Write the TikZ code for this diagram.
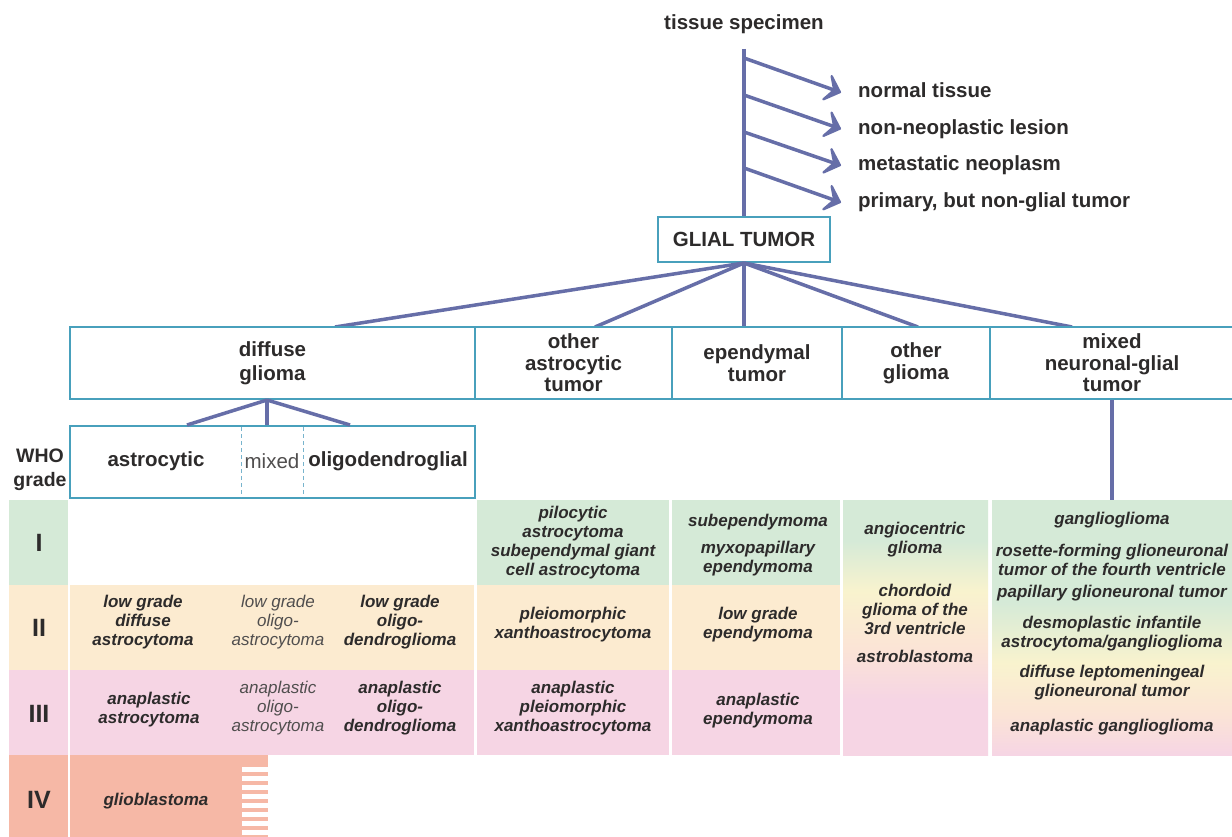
\documentclass[tikz,border=0pt]{standalone}
\usepackage{fontspec}
\setmainfont{Liberation Sans}
\usetikzlibrary{arrows.meta,calc}
\definecolor{lineblue}{RGB}{102,110,168}
\definecolor{boxteal}{RGB}{72,160,188}
\definecolor{dashteal}{RGB}{120,180,205}
\definecolor{txt}{RGB}{45,43,43}
\definecolor{txtgray}{RGB}{80,78,78}
\definecolor{gI}{RGB}{213,234,215}
\definecolor{gII}{RGB}{252,235,208}
\definecolor{gIII}{RGB}{246,213,228}
\definecolor{gIV}{RGB}{246,184,166}
\definecolor{yel}{RGB}{249,243,206}
\definecolor{pch}{RGB}{251,228,214}
\pgfdeclareverticalshading{ogshade}{100bp}{color(0bp)=(gIII); color(25bp)=(gIII); color(36bp)=(gIII); color(46bp)=(pch); color(57bp)=(yel); color(67bp)=(gI); color(100bp)=(gI)}
\pgfdeclareverticalshading{mxshade}{100bp}{color(0bp)=(gIII); color(25bp)=(gIII); color(33bp)=(pch); color(43bp)=(yel); color(55bp)=(gI); color(100bp)=(gI)}
\begin{document}
\begin{tikzpicture}[x=1pt,y=-1pt,
  lbl/.style={font=\fontsize{20.5}{22}\selectfont\bfseries, text=txt, inner sep=2pt},
  catbox/.style={draw=boxteal, line width=2pt, fill=white, minimum height=72pt, inner sep=0pt, align=center, font=\fontsize{20.5}{21.5}\selectfont\bfseries, text=txt},
  conn/.style={draw=lineblue, line width=3.5pt},
  arr/.style={conn, -{Stealth[length=15pt,width=28pt,inset=8pt,round,scale=1.3]}},
  cell/.style={font=\fontsize{17}{19}\selectfont\bfseries\itshape, text=txt, align=center, inner sep=0pt},
  cellgray/.style={font=\fontsize{17}{19}\selectfont\itshape, text=txtgray, align=center, inner sep=0pt},
  gradelbl/.style={font=\fontsize{25}{25}\selectfont\bfseries, text=txt, inner sep=0pt}
]
\useasboundingbox[fill=white] (0,0) rectangle (1232,837);

% ---------- table backgrounds ----------
\fill[gI]   (9,500) rectangle (68,585);
\fill[gII]  (9,585) rectangle (68,670);
\fill[gIII] (9,670) rectangle (68,755);
\fill[gIV]  (9,755) rectangle (68,837);
\fill[gII]  (70,585) rectangle (474,670);
\fill[gIII] (70,670) rectangle (474,755);
\fill[gIV]  (70,755) rectangle (268,837);
\foreach \k in {0,...,7}
  \fill[white] (242,{767+9*\k}) rectangle (269,{771.5+9*\k});
\fill[gI]   (477,500) rectangle (669,585);
\fill[gII]  (477,585) rectangle (669,670);
\fill[gIII] (477,670) rectangle (669,755);
\fill[gI]   (672,500) rectangle (840,585);
\fill[gII]  (672,585) rectangle (840,670);
\fill[gIII] (672,670) rectangle (840,755);
\node[shading=ogshade, minimum width=145pt, minimum height=255pt, inner sep=0pt] (ogcell) at (915.5,627.5) {};
\node[shading=mxshade, minimum width=240pt, minimum height=255pt, inner sep=0pt] (mxcell) at (1112,627.5) {};

% ---------- top part ----------
\node[lbl] (ts) at (744,24) {tissue specimen};
\node[draw=boxteal, line width=2pt, fill=white, minimum width=172pt, minimum height=45pt, inner sep=0pt,
      font=\fontsize{20.5}{22}\selectfont\bfseries, text=txt] (glial) at (744,239.5) {GLIAL TUMOR};

\node[lbl, anchor=base west, text height=15pt, text depth=4pt] (o1) at (856,98) {normal tissue};
\node[lbl, anchor=base west, text height=15pt, text depth=4pt] (o2) at (856,134.5) {non-neoplastic lesion};
\node[lbl, anchor=base west, text height=15pt, text depth=4pt] (o3) at (856,171) {metastatic neoplasm};
\node[lbl, anchor=base west, text height=15pt, text depth=4pt] (o4) at (856,208) {primary, but non-glial tumor};

\coordinate (s1) at (744,58);
\coordinate (s2) at (744,95);
\coordinate (s3) at (744,132);
\coordinate (s4) at (744,168);

\draw[conn] ([yshift=-13pt]ts.south) -- (glial.north);
\draw[arr] (s1) -- ([xshift=-15pt]o1.west);
\draw[arr] (s2) -- ([xshift=-15pt]o2.west);
\draw[arr] (s3) -- ([xshift=-15pt]o3.west);
\draw[arr] (s4) -- ([xshift=-15pt]o4.west);

% ---------- fan to categories ----------
\path (glial.south) coordinate (gs);
\draw[conn] (gs) -- (335,327) coordinate (e1);
\draw[conn] (gs) -- (595,327) coordinate (e2);
\draw[conn] (gs) -- (744,327) coordinate (e3);
\draw[conn] (gs) -- (918,327) coordinate (e4);
\draw[conn] (gs) -- (1072,327) coordinate (e5);

\node[catbox, minimum width=405pt, font=\fontsize{20.5}{24}\selectfont\bfseries] (diffuse) at (272.5,363) {diffuse\\glioma};
\node[catbox, minimum width=197pt] (oastro) at (573.5,363) {other\\astrocytic\\tumor};
\node[catbox, minimum width=170pt] (epend) at (757,363) {ependymal\\tumor};
\node[catbox, minimum width=148pt] (oglioma) at (916,363) {other\\glioma};
\node[catbox, minimum width=244pt] (mixbox) at (1112,363) {mixed\\neuronal-glial\\tumor};

% subtype box
\node[draw=boxteal, line width=2pt, fill=white, minimum width=405pt, minimum height=72pt, inner sep=0pt] (subtype) at (272.5,462) {};
\draw[dashteal, line width=1pt, dash pattern=on 4pt off 3pt] (241,427) -- (241,497);
\draw[dashteal, line width=1pt, dash pattern=on 4pt off 3pt] (303,427) -- (303,497);
\node[lbl] (astr) at (156,461) {astrocytic};
\node[font=\fontsize{20.5}{22}\selectfont, text=txtgray, inner sep=0pt] (mixd) at (272,461) {mixed};
\node[lbl] (oligo) at (388,461) {oligodendroglial};

\draw[conn] ([xshift=-5.5pt]diffuse.south) -- ([xshift=-85.5pt]subtype.north);
\draw[conn] ([xshift=-5.5pt]diffuse.south) -- ([xshift=-5.5pt]subtype.north);
\draw[conn] ([xshift=-5.5pt]diffuse.south) -- ([xshift=77.5pt]subtype.north);
\draw[conn] (mixbox.south) -- (mxcell.north);

% ---------- grade labels ----------
\node[font=\fontsize{19.5}{24}\selectfont\bfseries, text=txt, align=center, inner sep=0pt] (who) at (40,470) {WHO\\grade};
\node[gradelbl] (gr1) at (39,543) {I};
\node[gradelbl] (gr2) at (39,628) {II};
\node[gradelbl] (gr3) at (39,714) {III};
\node[gradelbl] (gr4) at (39,800) {IV};

% ---------- diffuse glioma entries ----------
\node[cell] (lgda) at (143,622) {low grade\\diffuse\\astrocytoma};
\node[cellgray] (lgoa) at (278,622) {low grade\\oligo-\\astrocytoma};
\node[cell] (lgod) at (400,622) {low grade\\oligo-\\dendroglioma};
\node[cell] (aa) at (149,710) {anaplastic\\astrocytoma};
\node[cellgray] (aoa) at (278,708) {anaplastic\\oligo-\\astrocytoma};
\node[cell] (aod) at (400,708) {anaplastic\\oligo-\\dendroglioma};
\node[cell] (gbm) at (156,801) {glioblastoma};

% ---------- other astrocytic ----------
\node[cell] (pilo) at (573,542.5) {pilocytic\\astrocytoma\\subependymal giant\\cell astrocytoma};
\node[cell] (pxa) at (573,624.5) {pleiomorphic\\xanthoastrocytoma};
\node[cell] (apxa) at (573,708) {anaplastic\\pleiomorphic\\xanthoastrocytoma};

% ---------- ependymal ----------
\node[cell] (sube) at (758,522) {subependymoma};
\node[cell] (myxo) at (758,559) {myxopapillary\\ependymoma};
\node[cell] (lge) at (758,624.5) {low grade\\ependymoma};
\node[cell] (ae) at (758,710.5) {anaplastic\\ependymoma};

% ---------- other glioma ----------
\node[cell] (angio) at (915,539.5) {angiocentric\\glioma};
\node[cell] (chord) at (915,609) {chordoid\\glioma of the\\3rd ventricle};
\node[cell] (astrob) at (915,656) {astroblastoma};

% ---------- mixed neuronal-glial ----------
\node[cell] (gg) at (1112,520) {ganglioglioma};
\node[cell] (rgnt) at (1112,559.5) {rosette-forming glioneuronal\\tumor of the fourth ventricle};
\node[cell] (pgnt) at (1112,593) {papillary glioneuronal tumor};
\node[cell] (dia) at (1112,633.5) {desmoplastic infantile\\astrocytoma/ganglioglioma};
\node[cell] (dlgnt) at (1112,682.5) {diffuse leptomeningeal\\glioneuronal tumor};
\node[cell] (ag) at (1112,727) {anaplastic ganglioglioma};
\end{tikzpicture}
\end{document}
